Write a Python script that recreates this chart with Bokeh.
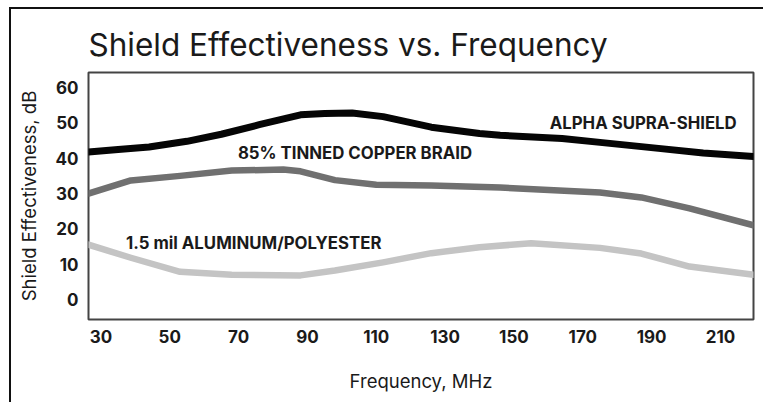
from bokeh.plotting import figure
from bokeh.models import Range1d, FixedTicker, Label
from bokeh.embed import file_html
from bokeh.resources import INLINE

# Data
freq_supra = [26.4, 35, 44, 55, 65, 76, 88, 95, 103, 112, 126, 140, 146, 164, 175, 192, 205, 219.6]
db_supra = [41.8, 42.5, 43.2, 44.8, 46.8, 49.5, 52.3, 52.7, 52.8, 51.8, 48.8, 47.0, 46.5, 45.6, 44.5, 42.8, 41.5, 40.5]

freq_braid = [26.4, 38.7, 53, 68, 83, 88, 98, 110, 126, 146, 175, 187, 201, 219.6]
db_braid = [30.0, 33.7, 35.0, 36.5, 36.8, 36.3, 33.8, 32.5, 32.3, 31.7, 30.3, 28.9, 25.8, 21.0]

freq_alu = [26.4, 38.7, 53, 68, 88, 98, 112, 126, 140, 155, 175, 187, 201, 219.6]
db_alu = [15.5, 11.8, 7.8, 7.0, 6.8, 8.2, 10.5, 13.1, 14.8, 15.9, 14.6, 13.0, 9.3, 7.0]

x_ticks = [30, 50, 70, 90, 110, 130, 150, 170, 190, 210]
y_ticks = [0, 10, 20, 30, 40, 50, 60]

series_labels = ["ALPHA SUPRA-SHIELD", "85% TINNED COPPER BRAID", "1.5 mil ALUMINUM/POLYESTER"]
label_x = [160.4, 69.8, 37.3]
label_y = [50.1, 41.4, 15.9]

FONT = "Inter"

p = figure(width=754, height=395, output_backend="svg", toolbar_location=None,
           x_range=Range1d(26.4, 219.6), y_range=Range1d(-5.7, 64.3),
           min_border_left=77, min_border_right=12, min_border_top=63, min_border_bottom=85,
           x_axis_label="Frequency, MHz", y_axis_label="Shield Effectiveness, dB")

p.styles = {"margin-left": "9px", "margin-top": "7px",
            "border-left": "2px solid #111", "border-top": "2px solid #111"}

p.title.text = "Shield Effectiveness vs. Frequency"
p.title.text_font = FONT
p.title.text_font_size = "31.5px"
p.title.text_font_style = "normal"
p.title.text_color = "#1a1a1a"
p.title.align = "left"
p.title.standoff = 17

p.outline_line_color = "#444444"
p.outline_line_width = 2
p.grid.visible = False
p.background_fill_color = "white"
p.border_fill_color = "white"

for ax in (p.xaxis[0], p.yaxis[0]):
    ax.axis_line_color = None
    ax.major_tick_line_color = None
    ax.minor_tick_line_color = None
    ax.major_tick_out = 0
    ax.major_tick_in = 0
    ax.minor_tick_out = 0
    ax.major_label_text_font = FONT
    ax.major_label_text_font_size = "17px"
    ax.major_label_text_font_style = "bold"
    ax.major_label_text_color = "#1a1a1a"
    ax.axis_label_text_font = FONT
    ax.axis_label_text_font_size = "18.5px"
    ax.axis_label_text_font_style = "normal"
    ax.axis_label_text_color = "#1a1a1a"

p.xaxis.ticker = FixedTicker(ticks=x_ticks)
p.yaxis.ticker = FixedTicker(ticks=y_ticks)
p.xaxis.major_label_standoff = 10
p.xaxis.axis_label_standoff = 24
p.yaxis.major_label_standoff = 10
p.yaxis.axis_label_standoff = 13

p.line(freq_supra, db_supra, line_color="#050505", line_width=7, line_join="round", line_cap="round")
p.line(freq_braid, db_braid, line_color="#707070", line_width=6.5, line_join="round", line_cap="round")
p.line(freq_alu, db_alu, line_color="#c4c4c4", line_width=6.5, line_join="round", line_cap="round")

for t, lx, ly in zip(series_labels, label_x, label_y):
    p.add_layout(Label(x=lx, y=ly, text=t, text_font=FONT, text_font_size="16.8px",
                       text_font_style="bold", text_color="#1a1a1a", text_baseline="middle"))

open("out.html", "w").write(file_html(p, INLINE))
